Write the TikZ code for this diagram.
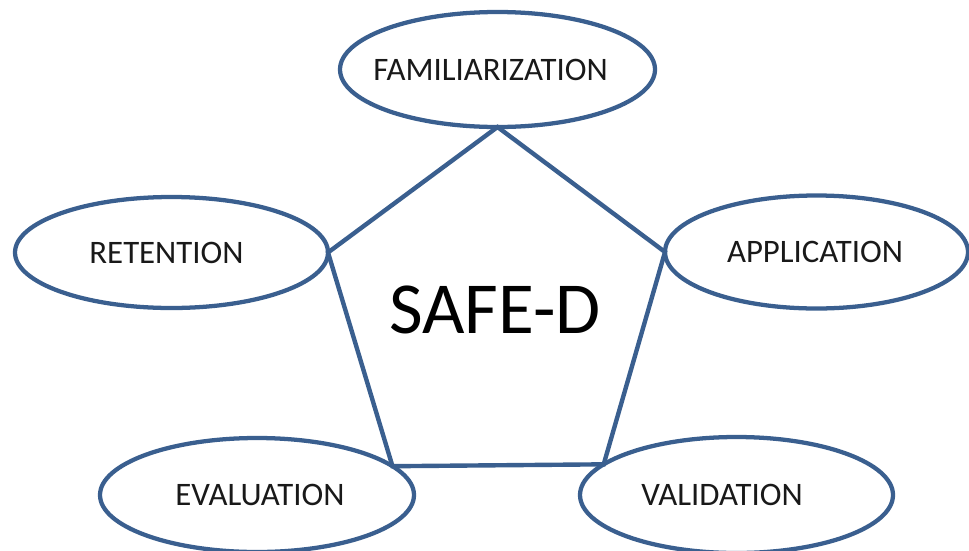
\documentclass[tikz,border=0pt]{standalone}
\usepackage{fontspec}
\setmainfont{Carlito}
\usetikzlibrary{shapes.geometric}
\definecolor{outl}{HTML}{3A5F8F}
\tikzset{
  stage/.style={ellipse, draw=outl, line width=3.2pt, fill=white, inner sep=0pt, outer sep=0pt,
    font=\fontsize{24.6}{29}\selectfont, text=black!90},
  edge/.style={draw=outl, line width=3.3pt, line join=miter}
}
\begin{document}
\begin{tikzpicture}[x=0.75pt,y=-0.75pt]
\useasboundingbox (0,0) rectangle (969,550);
\node[stage, minimum width=236.25pt, minimum height=86.25pt] (fam) at (497.5,69.5) {\hspace*{-10.5pt}FAMILIARIZATION};
\node[stage, minimum width=234.75pt, minimum height=83.25pt] (ret) at (171.5,252.5) {\hspace*{-7.5pt}RETENTION};
\node[stage, minimum width=227.25pt, minimum height=84.75pt] (app) at (816.5,252) {\hspace*{-2.25pt}APPLICATION};
\node[stage, minimum width=235.5pt, minimum height=85.5pt] (eva) at (257,495) {\hspace*{4.5pt}EVALUATION};
\node[stage, minimum width=234.75pt, minimum height=87pt] (val) at (736.5,495) {\hspace*{-21.75pt}VALIDATION};
\draw[edge] (fam.south) -- (app.west) -- (val.167.5) -- (eva.12.5) -- (ret.east) -- cycle;
\node[font=\fontsize{55}{62}\selectfont, text=black, inner sep=0pt] (safed) at (495,310) {SAFE-D};
\end{tikzpicture}
\end{document}
